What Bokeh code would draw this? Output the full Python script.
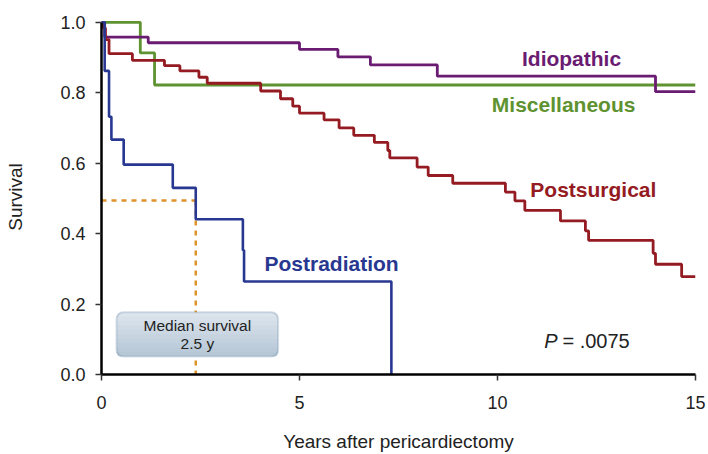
from bokeh.plotting import figure
from bokeh.models import Range1d, BoxAnnotation, Label, FixedTicker, PrintfTickFormatter
from bokeh.embed import file_html
from bokeh.resources import INLINE

# ---- data ----
idio_t = [0, 0.08, 1.18, 5.0, 5.97, 6.79, 8.48, 13.99, 15]
idio_s = [1.0, 0.958, 0.942, 0.923, 0.902, 0.879, 0.847, 0.803, 0.803]

misc_t = [0, 0.98, 1.34, 15]
misc_s = [1.0, 0.913, 0.822, 0.822]

postsurg_t = [0, 0.04, 0.1, 0.19, 0.78, 1.59, 1.98, 2.46, 2.67, 4.02, 4.52, 4.83, 5.0, 5.62,
              6.0, 6.37, 6.89, 7.23, 7.28, 7.97, 8.25, 8.87, 10.2, 10.44, 10.69, 11.59, 12.22,
              12.3, 13.93, 13.99, 14.65, 15]
postsurg_s = [1.0, 0.984, 0.951, 0.911, 0.892, 0.877, 0.862, 0.844, 0.827, 0.805, 0.783, 0.762,
              0.742, 0.723, 0.70, 0.679, 0.659, 0.636, 0.615, 0.589, 0.565, 0.543, 0.518, 0.493,
              0.466, 0.436, 0.408, 0.381, 0.344, 0.313, 0.278, 0.278]

postrad_t = [0, 0.08, 0.19, 0.25, 0.56, 1.8, 2.38, 3.57, 3.6, 7.32]
postrad_s = [1.0, 0.862, 0.732, 0.667, 0.596, 0.530, 0.441, 0.353, 0.264, 0.0]

median_time = 2.38
median_surv = 0.494

x_ticks = [0, 5, 10, 15]
y_ticks = [0.0, 0.2, 0.4, 0.6, 0.8, 1.0]

# ---- styles ----
C_IDIO = "#6A1B72"
C_MISC = "#5F9230"
C_POST = "#951B22"
C_RAD = "#283891"
C_MED = "#DE932A"
FONT = "Liberation Sans"

p = figure(width=708, height=454, output_backend="svg", toolbar_location=None,
           x_range=Range1d(0, 15), y_range=Range1d(0, 1.008),
           min_border_left=101, min_border_right=13, min_border_top=19, min_border_bottom=79)
p.outline_line_color = None
p.xgrid.visible = False
p.ygrid.visible = False
p.background_fill_color = "white"

# median dashed guide
p.line([0, median_time], [median_surv, median_surv], line_color=C_MED, line_width=2.5, line_dash="5 5")
p.line([median_time, median_time], [median_surv, 0], line_color=C_MED, line_width=2.5, line_dash="5 5")

# survival curves
p.step(misc_t, misc_s, mode="after", line_color=C_MISC, line_width=2.8)
p.step(idio_t, idio_s, mode="after", line_color=C_IDIO, line_width=2.8)
p.step(postsurg_t, postsurg_s, mode="after", line_color=C_POST, line_width=2.8)
p.step(postrad_t, postrad_s, mode="after", line_color=C_RAD, line_width=2.6)

# axes
for ax in (p.xaxis[0], p.yaxis[0]):
    ax.axis_line_color = "black"
    ax.axis_line_width = 2.5
    ax.major_tick_line_color = "#333333"
    ax.major_tick_line_width = 1.5
    ax.major_tick_out = 6
    ax.major_tick_in = 0
    ax.minor_tick_line_color = None
    ax.major_label_text_font = FONT
    ax.major_label_text_font_size = "18px"
    ax.major_label_text_color = "#222222"
    ax.axis_label_text_font = FONT
    ax.axis_label_text_font_size = "19px"
    ax.axis_label_text_font_style = "normal"
    ax.axis_label_text_color = "#222222"

p.xaxis.ticker = FixedTicker(ticks=x_ticks)
p.yaxis.ticker = FixedTicker(ticks=y_ticks)
p.yaxis.formatter = PrintfTickFormatter(format="%.1f")
p.yaxis.bounds = (0, 1.0)
p.xaxis.bounds = (0, 15)
p.xaxis.axis_label = "Years after pericardiectomy"
p.yaxis.axis_label = "Survival"
p.xaxis.major_label_standoff = 15
p.xaxis.axis_label_standoff = 19
p.yaxis.major_label_standoff = 10
p.yaxis.axis_label_standoff = 31

# median box with a vertical gradient (stacked strips) and rounded border
BOX_L, BOX_R, BOX_B, BOX_T = 0.38, 4.46, 0.051, 0.177
n_strips = 10
top_rgb = (0xDE, 0xE6, 0xEE)
bot_rgb = (0xB4, 0xC5, 0xD5)
h = (BOX_T - BOX_B) / n_strips
for i in range(n_strips):
    f = (i + 0.5) / n_strips
    rgb = tuple(int(round(top_rgb[k] + (bot_rgb[k] - top_rgb[k]) * f)) for k in range(3))
    col = "#%02X%02X%02X" % rgb
    top = BOX_T - i * h
    bot = BOX_T - (i + 1) * h - (0.002 if i < n_strips - 1 else 0)
    if i == 0:
        br = dict(top_left=7, top_right=7, bottom_right=0, bottom_left=0)
    elif i == n_strips - 1:
        br = dict(top_left=0, top_right=0, bottom_right=7, bottom_left=7)
    else:
        br = 0
    p.add_layout(BoxAnnotation(left=BOX_L, right=BOX_R, bottom=bot, top=top,
                               fill_color=col, fill_alpha=1.0, line_color=None,
                               border_radius=br, level="annotation"))
p.add_layout(BoxAnnotation(left=BOX_L, right=BOX_R, bottom=BOX_B, top=BOX_T,
                           fill_color=None, fill_alpha=0, line_color="#7B95AE",
                           line_width=2, border_radius=7, level="annotation"))

def add_label(x, y, text, color, size, style="normal", align="center"):
    p.add_layout(Label(x=x, y=y, text=text, text_color=color, text_font=FONT,
                       text_font_size=size, text_font_style=style,
                       text_align=align, text_baseline="middle"))

add_label(2.42, 0.139, "Median survival", "#222222", "15.5px")
add_label(2.42, 0.088, "2.5 y", "#222222", "15.5px")

add_label(11.87, 0.898, "Idiopathic", C_IDIO, "21px", "bold")
add_label(11.67, 0.766, "Miscellaneous", C_MISC, "21px", "bold")
add_label(12.42, 0.525, "Postsurgical", C_POST, "21px", "bold")
add_label(5.81, 0.316, "Postradiation", C_RAD, "21px", "bold")

add_label(11.52, 0.096, "P", "#222222", "20px", "italic", "right")
add_label(11.64, 0.096, "= .0075", "#222222", "20px", "normal", "left")

open("out.html", "w").write(file_html(p, INLINE))
